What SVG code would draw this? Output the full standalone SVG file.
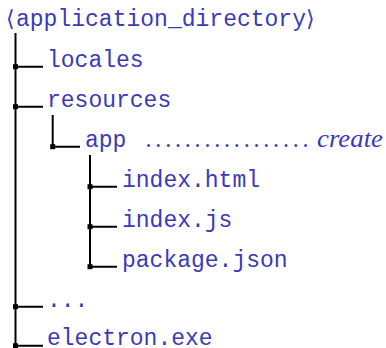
<svg xmlns="http://www.w3.org/2000/svg" width="386" height="348" viewBox="0 0 386 348">
<style>
.t{font-family:"Liberation Mono","DejaVu Sans Mono",monospace;font-size:23px;fill:#3a3ab8}
.s{font-family:"DejaVu Serif","Liberation Serif",serif;font-size:22px;fill:#3a3ab8}
.i{font-family:"Liberation Serif",serif;font-style:italic;font-size:26px;fill:#3a3ab8}
.l{stroke:#000;stroke-width:2;fill:none}
.sq{fill:#000}
</style>
<rect width="386" height="348" fill="#fff"/>
<g id="connectors">
<path class="l" d="M15.5 33V348M15.5 66.7H43M15.5 106.7H43M15.5 306.7H43M15.5 345.8H43"/>
<path class="l" d="M52.7 115V146.7H80"/>
<path class="l" d="M90 155V266.7M90 186.7H117M90 226.7H117M90 266.7H117"/>
<rect class="sq" x="13" y="64.2" width="5" height="5"/>
<rect class="sq" x="13" y="104.2" width="5" height="5"/>
<rect class="sq" x="13" y="304.2" width="5" height="5"/>
<rect class="sq" x="13" y="343.3" width="5" height="5"/>
<rect class="sq" x="50.2" y="144.2" width="5" height="5"/>
<rect class="sq" x="87.5" y="184.2" width="5" height="5"/>
<rect class="sq" x="87.5" y="224.2" width="5" height="5"/>
<rect class="sq" x="87.5" y="264.2" width="5" height="5"/>
</g>
<g id="root">
<text class="s" x="6" y="26">⟨</text>
<text class="t" x="16" y="26" textLength="290" lengthAdjust="spacingAndGlyphs">application_directory</text>
<text class="s" x="306" y="26">⟩</text>
</g>
<g id="locales"><text class="t" x="47" y="66.5">locales</text></g>
<g id="resources"><text class="t" x="47" y="106.5">resources</text></g>
<g id="app">
<text class="t" x="85" y="146.5">app</text>
<text class="s" x="145" y="147" textLength="164" lengthAdjust="spacing">.................</text>
<text class="i" x="317" y="147" textLength="66" lengthAdjust="spacingAndGlyphs">create</text>
</g>
<g id="index-html"><text class="t" x="122" y="186.5">index.html</text></g>
<g id="index-js"><text class="t" x="122" y="226.5">index.js</text></g>
<g id="package-json"><text class="t" x="122" y="266.5">package.json</text></g>
<g id="more"><text class="t" x="47" y="306.5">...</text></g>
<g id="electron"><text class="t" x="47" y="344.5">electron.exe</text></g>
</svg>
